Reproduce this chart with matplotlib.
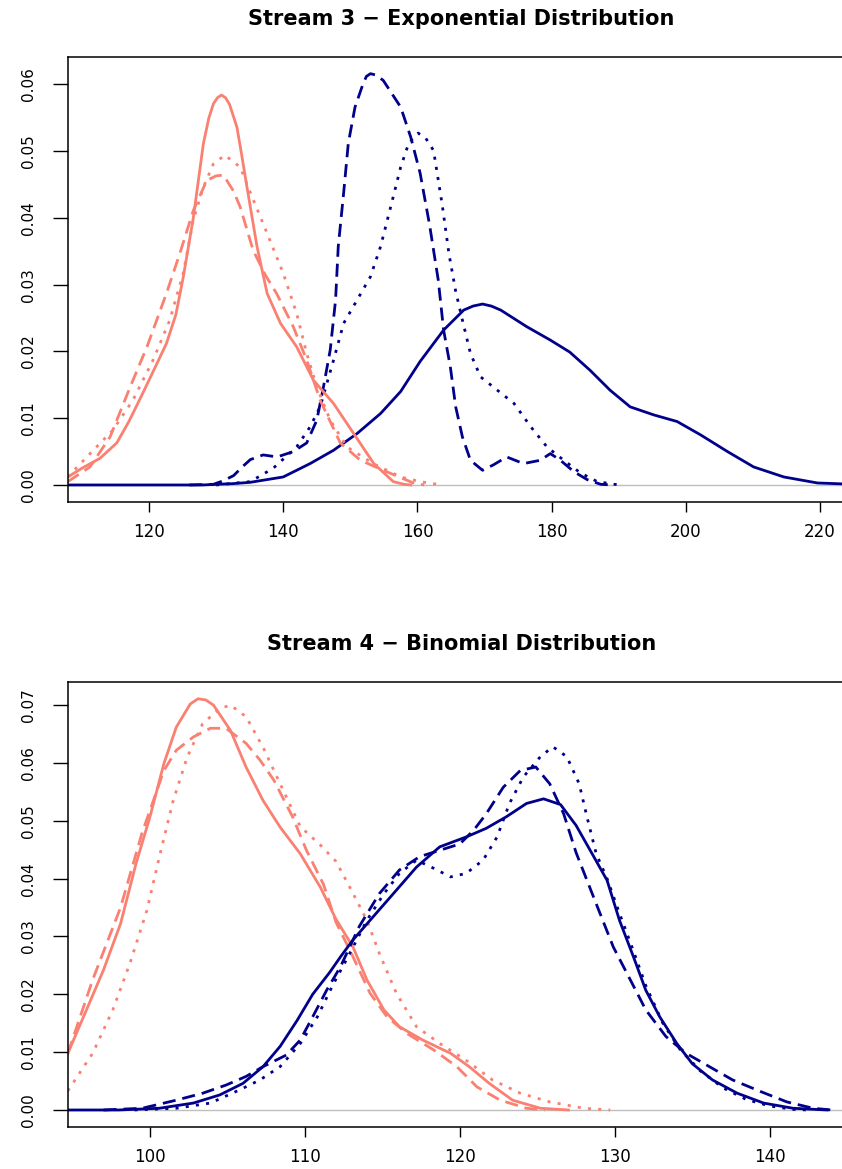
import numpy as np
import matplotlib.pyplot as plt

plt.rcParams['font.family'] = ['DejaVu Sans']

# ---- Stream 3 - Exponential ----
exp_sal_solid_x = [107.9, 110, 112.7, 115.2, 117, 119.1, 121, 122.6, 124, 125.1, 126.6, 128.1, 128.9, 129.6, 130.2,
                   130.8, 131.4, 132.0, 133.1, 133.8, 134.6, 136.1, 137.6, 139.6, 142.0, 144.5, 147.5, 150.5, 153.5,
                   156.4, 158, 159]
exp_sal_solid_y = [0.0012, 0.0025, 0.0040, 0.0063, 0.0095, 0.0138, 0.0178, 0.0212, 0.0255, 0.0311, 0.0400, 0.0511,
                   0.0549, 0.0571, 0.0580, 0.0584, 0.0580, 0.0570, 0.0536, 0.0495, 0.0446, 0.0357, 0.0287, 0.0242,
                   0.0207, 0.0157, 0.0122, 0.0077, 0.0032, 0.0005, 0.0001, 0.0]

exp_sal_dash_x = [107.9, 111.2, 114.2, 117.2, 119.7, 122.6, 124.6, 126.6, 128.6, 130.0, 131.1, 132.6, 133.6, 135.5,
                  137.3, 139.0, 141.5, 143.5, 145.5, 148.5, 151.5, 154.9, 159.4, 161]
exp_sal_dash_y = [0.0005, 0.0027, 0.0072, 0.0147, 0.0207, 0.0287, 0.0347, 0.0411, 0.0456, 0.0463, 0.0464, 0.0440,
                  0.0416, 0.0352, 0.0315, 0.0287, 0.0237, 0.0187, 0.0127, 0.0063, 0.0037, 0.0022, 0.0003, 0.0]

exp_sal_dot_x = [107.9, 111.7, 114.6, 117.6, 120.6, 123.1, 125.1, 126.6, 128.1, 129.6, 131.3, 133.6, 135.3, 137.6,
                 140.0, 142.0, 143.5, 145.0, 147.0, 149.5, 153.4, 157.5, 160.4, 163.6]
exp_sal_dot_y = [0.0012, 0.0052, 0.0082, 0.0127, 0.0187, 0.0247, 0.0317, 0.0397, 0.0446, 0.0481, 0.0494, 0.0476,
                 0.0433, 0.0377, 0.0317, 0.0257, 0.0197, 0.0147, 0.0097, 0.0057, 0.0032, 0.0012, 0.0005, 0.0]

exp_nav_solid_x = [107.9, 120, 128, 130, 132.5, 135.1, 140, 144, 147.5, 151, 154.5, 157.5, 160.4, 163.9, 166.9,
                   168.3, 169.7, 171, 172.4, 176.3, 179.8, 182.7, 185.7, 188.7, 191.7, 195.2, 198.7, 202.2, 206.2,
                   210.1, 214.6, 219.6, 225]
exp_nav_solid_y = [0.0, 0.0, 0.0, 0.0001, 0.0002, 0.0004, 0.0012, 0.0032, 0.0052, 0.0077, 0.0107, 0.0140, 0.0185,
                   0.0232, 0.0262, 0.0268, 0.0271, 0.0268, 0.0262, 0.0237, 0.0217, 0.0199, 0.0172, 0.0142, 0.0117,
                   0.0105, 0.0095, 0.0075, 0.0050, 0.0027, 0.0012, 0.0003, 0.0001]

exp_nav_dash_x = [126, 129.6, 131, 132.6, 134, 135.1, 137.0, 139.1, 141.5, 143.5, 145.0, 146.0, 147.0, 147.8, 148.2,
                  149.0, 149.7, 150.7, 151.9, 152.4, 153.0, 153.8, 154.9, 157.5, 159.0, 160.4, 161.8, 163.1, 163.9,
                  164.9, 165.7, 166.7, 167.9, 169.7, 171.3, 173.3, 175.8, 178.3, 179.8, 181.3, 183.3, 185.3, 187.3,
                  189]
exp_nav_dash_y = [0.0, 0.0001, 0.0006, 0.0014, 0.0028, 0.0038, 0.0045, 0.0042, 0.0050, 0.0063, 0.0097, 0.0147, 0.0202,
                  0.0277, 0.0357, 0.0437, 0.0512, 0.0566, 0.0601, 0.0612, 0.0616, 0.0614, 0.0606, 0.0566, 0.0521,
                  0.0467, 0.0390, 0.0307, 0.0232, 0.0177, 0.0117, 0.0072, 0.0037, 0.0022, 0.0030, 0.0042, 0.0032,
                  0.0037, 0.0047, 0.0037, 0.0020, 0.0008, 0.0001, 0.0]

exp_nav_dot_x = [130, 135.1, 138.5, 142, 144, 145.5, 147.5, 149, 151, 153, 154.5, 156, 157.5, 158.7, 160.1, 161.2,
                 162.4, 163.7, 164.7, 165.7, 166.7, 167.9, 169.4, 171.9, 174.4, 176.9, 179.3, 181.8, 184.3, 186.8,
                 189.3, 190.5]
exp_nav_dot_y = [0.0, 0.0005, 0.0025, 0.0057, 0.0087, 0.0117, 0.0187, 0.0242, 0.0277, 0.0312, 0.0357, 0.0416, 0.0476,
                 0.0512, 0.0527, 0.0520, 0.0501, 0.0419, 0.0346, 0.0290, 0.0247, 0.0197, 0.0162, 0.0142, 0.0122,
                 0.0087, 0.0057, 0.0037, 0.0018, 0.0005, 0.0001, 0.0]

# ---- Stream 4 - Binomial ----
bin_sal_solid_x = [94.7, 95.9, 97.0, 98.1, 99.1, 100.0, 100.9, 101.7, 102.6, 103.1, 103.6, 104.1, 105.2, 106.2, 107.3,
                   108.4, 109.7, 111.0, 112.0, 113.1, 114.0, 115.1, 116.1, 117.6, 119.4, 120.6, 121.9, 123.4, 125.2,
                   127]
bin_sal_solid_y = [0.0098, 0.0173, 0.0242, 0.0322, 0.0426, 0.0507, 0.0599, 0.0662, 0.0702, 0.0711, 0.0709, 0.0700,
                   0.0656, 0.0593, 0.0535, 0.0489, 0.0443, 0.0385, 0.0330, 0.0282, 0.0225, 0.0173, 0.0144, 0.0121,
                   0.0098, 0.0075, 0.0046, 0.0017, 0.0003, 0.0]

bin_sal_dash_x = [94.7, 96.3, 98.1, 99.5, 100.9, 101.7, 102.8, 103.9, 104.9, 106.2, 107.1, 108.0, 109.2, 110.1, 111.2,
                  112.0, 113.1, 114.2, 115.3, 116.6, 118.3, 119.8, 121.1, 122.6, 124.3, 125.5]
bin_sal_dash_y = [0.0098, 0.0225, 0.0350, 0.0480, 0.0587, 0.0622, 0.0645, 0.0660, 0.0660, 0.0634, 0.0605, 0.0570,
                  0.0507, 0.0449, 0.0390, 0.0325, 0.0265, 0.0202, 0.0161, 0.0132, 0.0104, 0.0075, 0.0040, 0.0017,
                  0.0003, 0.0]

bin_sal_dot_x = [94.7, 96.3, 97.6, 98.7, 99.8, 100.6, 101.5, 102.4, 103.4, 104.5, 105.2, 106.2, 107.3, 108.4, 109.7,
                 111.0, 112.0, 112.9, 114.0, 114.8, 115.9, 117.2, 118.7, 120.4, 122.1, 123.9, 125.8, 128.0, 129.7]
bin_sal_dot_y = [0.0033, 0.0098, 0.0173, 0.0253, 0.0345, 0.0437, 0.0535, 0.0610, 0.0668, 0.0694, 0.0700, 0.0680,
                 0.0627, 0.0564, 0.0490, 0.0458, 0.0430, 0.0385, 0.0328, 0.0271, 0.0202, 0.0144, 0.0115, 0.0086,
                 0.0052, 0.0029, 0.0014, 0.0003, 0.0]

bin_nav_solid_x = [94.7, 98, 100.6, 102.8, 104.5, 106.0, 107.3, 108.4, 109.5, 110.5, 111.6, 112.3, 113.1, 114.4,
                   115.9, 117.2, 118.7, 120.4, 121.7, 123.0, 124.3, 125.4, 126.5, 127.5, 128.6, 129.5, 130.3, 131.2,
                   132.0, 132.9, 134.0, 135.0, 136.3, 137.9, 139.6, 141.5, 143.7]
bin_nav_solid_y = [0.0, 0.0, 0.0003, 0.0012, 0.0026, 0.0046, 0.0075, 0.0110, 0.0155, 0.0200, 0.0238, 0.0265, 0.0294,
                   0.0334, 0.0380, 0.0420, 0.0455, 0.0472, 0.0487, 0.0507, 0.0530, 0.0538, 0.0528, 0.0492, 0.0440,
                   0.0397, 0.0328, 0.0265, 0.0207, 0.0161, 0.0115, 0.0080, 0.0052, 0.0029, 0.0012, 0.0003, 0.0]

bin_nav_dash_x = [97, 99.5, 101.7, 103.4, 104.9, 106.2, 107.3, 108.8, 109.7, 110.5, 111.4, 112.3, 113.5, 114.8, 116.1,
                  117.4, 118.7, 120.0, 120.9, 121.7, 122.8, 123.9, 124.9, 125.8, 126.7, 127.5, 128.6, 129.9, 131.0,
                  132.0, 133.3, 134.6, 136.1, 137.6, 139.4, 141.1, 142.8, 144.0]
bin_nav_dash_y = [0.0, 0.0003, 0.0017, 0.0029, 0.0043, 0.0058, 0.0075, 0.0095, 0.0121, 0.0161, 0.0207, 0.0248, 0.0317,
                  0.0374, 0.0415, 0.0438, 0.0449, 0.0460, 0.0484, 0.0512, 0.0558, 0.0587, 0.0593, 0.0564, 0.0512,
                  0.0445, 0.0370, 0.0282, 0.0225, 0.0173, 0.0127, 0.0098, 0.0075, 0.0052, 0.0032, 0.0014, 0.0003, 0.0]

bin_nav_dot_x = [99, 101.7, 103.9, 105.8, 107.1, 108.4, 109.7, 110.8, 111.8, 112.9, 114.0, 115.1, 116.1, 117.2, 118.3,
                 119.4, 120.4, 121.5, 122.4, 123.2, 124.1, 125.2, 126.0, 126.9, 127.7, 128.2, 128.8, 129.5, 130.3,
                 131.2, 132.0, 133.1, 134.2, 135.5, 137.0, 138.5, 140.0, 141.5, 142.5]
bin_nav_dot_y = [0.0, 0.0003, 0.0012, 0.0035, 0.0052, 0.0075, 0.0115, 0.0161, 0.0216, 0.0271, 0.0328, 0.0374, 0.0409,
                 0.0432, 0.0418, 0.0403, 0.0409, 0.0432, 0.0472, 0.0530, 0.0576, 0.0611, 0.0628, 0.0611, 0.0564,
                 0.0507, 0.0443, 0.0400, 0.0340, 0.0275, 0.0215, 0.0150, 0.0105, 0.0068, 0.0038, 0.0018, 0.0007,
                 0.0001, 0.0]

exp_xticks = [120, 140, 160, 180, 200, 220]
exp_yticks = [0.00, 0.01, 0.02, 0.03, 0.04, 0.05, 0.06]
bin_xticks = [100, 110, 120, 130, 140]
bin_yticks = [0.00, 0.01, 0.02, 0.03, 0.04, 0.05, 0.06, 0.07]

salmon = '#FA8072'
navy = '#00008B'
dash = (0, (4.7, 2.5))
dot = (0, (1.1, 2.6))
lw = 2.0

W, H = 842, 1169
fig = plt.figure(figsize=(W / 100, H / 100), dpi=100)


def panel(top_px, xlim, ylim, xticks, yticks, title, curves):
    ax = fig.add_axes([68 / W, 1 - (top_px + 445) / H, (855 - 68) / W, 445 / H])
    ax.axhline(0, color='#BEBEBE', lw=1.0, zorder=1)
    for x, y, col, ls in curves:
        ax.plot(x, y, color=col, ls=ls, lw=lw, zorder=2)
    ax.set_xlim(xlim)
    ax.set_ylim(ylim)
    ax.set_xticks(xticks)
    ax.set_xticklabels([str(t) for t in xticks])
    ax.set_yticks(yticks)
    ax.set_yticklabels(['%.2f' % t for t in yticks], rotation=90, va='center')
    ax.tick_params(axis='x', length=7, width=1, pad=8, labelsize=12)
    ax.tick_params(axis='y', length=11, width=1, pad=12, labelsize=11)
    for s in ax.spines.values():
        s.set_linewidth(1.1)
    ax.text(0.5, 1 + 38 / 445, title, transform=ax.transAxes, ha='center', va='center',
            fontsize=15, fontweight='bold')
    return ax


panel(57, (107.93, 225.2), (-0.00255, 0.0641), exp_xticks, exp_yticks,
      'Stream 3 \u2212 Exponential Distribution',
      [(exp_nav_solid_x, exp_nav_solid_y, navy, '-'),
       (exp_nav_dash_x, exp_nav_dash_y, navy, dash),
       (exp_nav_dot_x, exp_nav_dot_y, navy, dot),
       (exp_sal_solid_x, exp_sal_solid_y, salmon, '-'),
       (exp_sal_dash_x, exp_sal_dash_y, salmon, dash),
       (exp_sal_dot_x, exp_sal_dot_y, salmon, dot)])

panel(682, (94.71, 145.5), (-0.00294, 0.0740), bin_xticks, bin_yticks,
      'Stream 4 \u2212 Binomial Distribution',
      [(bin_sal_solid_x, bin_sal_solid_y, salmon, '-'),
       (bin_sal_dash_x, bin_sal_dash_y, salmon, dash),
       (bin_sal_dot_x, bin_sal_dot_y, salmon, dot),
       (bin_nav_solid_x, bin_nav_solid_y, navy, '-'),
       (bin_nav_dash_x, bin_nav_dash_y, navy, dash),
       (bin_nav_dot_x, bin_nav_dot_y, navy, dot)])

fig.savefig('out.png', dpi=100)
